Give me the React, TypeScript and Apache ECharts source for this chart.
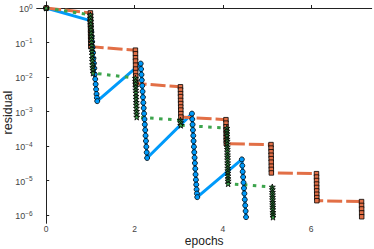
import React, { useEffect, useRef } from "react";
import * as echarts from "echarts";

// ---------- data ----------
const blueEpoch = [
  0,
  1.000, 1.010, 1.020, 1.030, 1.040, 1.050, 1.060, 1.070, 1.080, 1.090, 1.100, 1.110, 1.120, 1.130, 1.140, 1.148, 1.155,
  2.140, 2.148, 2.157, 2.165, 2.174, 2.182, 2.191, 2.199, 2.208, 2.216, 2.225, 2.233, 2.242, 2.250, 2.259, 2.267, 2.276, 2.285,
  3.300, 3.307, 3.315, 3.322, 3.330, 3.337, 3.345, 3.352, 3.360, 3.367, 3.375, 3.382, 3.390, 3.397, 3.405, 3.413, 3.420,
  4.430, 4.440, 4.449, 4.459, 4.468, 4.478, 4.487, 4.497, 4.506, 4.516, 4.525,
];
const blueResidual = [
  1,
  4.3e-1, 3.0e-1, 2.1e-1, 1.5e-1, 1.05e-1, 7.2e-2, 5.1e-2, 3.5e-2, 2.5e-2, 1.8e-2, 1.2e-2, 8.7e-3, 6.2e-3, 4.4e-3, 3.2e-3, 2.5e-3, 2.0e-3,
  2.45e-2, 1.7e-2, 1.17e-2, 8.1e-3, 5.6e-3, 3.8e-3, 2.6e-3, 1.8e-3, 1.26e-3, 8.7e-4, 6.0e-4, 4.2e-4, 2.9e-4, 2.0e-4, 1.4e-4, 9.5e-5, 6.5e-5, 4.5e-5,
  8.7e-4, 6.0e-4, 4.2e-4, 2.9e-4, 2.0e-4, 1.4e-4, 9.5e-5, 6.6e-5, 4.6e-5, 3.2e-5, 2.2e-5, 1.5e-5, 1.05e-5, 7.6e-6, 5.5e-6, 4.2e-6, 3.3e-6,
  4.1e-5, 2.7e-5, 1.8e-5, 1.26e-5, 8.7e-6, 6.0e-6, 4.2e-6, 2.8e-6, 1.9e-6, 1.3e-6, 8.7e-7,
];

const orangeEpoch = [
  0,
  1.000, 1.001, 1.002, 1.003, 1.004, 1.005, 1.006, 1.007, 1.008, 1.009, 1.010,
  2.020, 2.021, 2.022, 2.023, 2.024, 2.025, 2.026, 2.027, 2.028, 2.029,
  3.040, 3.041, 3.042, 3.043, 3.044, 3.045, 3.046, 3.047, 3.048, 3.049,
  4.070, 4.071, 4.072, 4.073, 4.074, 4.075, 4.076, 4.077,
  5.090, 5.091, 5.092, 5.093, 5.094, 5.095, 5.096, 5.097, 5.098,
  6.120, 6.121, 6.122, 6.123, 6.124, 6.125, 6.126, 6.127, 6.128,
  7.140, 7.141, 7.142, 7.143, 7.144,
];
const orangeResidual = [
  1,
  7.2e-1, 5.8e-1, 4.6e-1, 3.7e-1, 3.0e-1, 2.3e-1, 1.9e-1, 1.5e-1, 1.2e-1, 9.5e-2, 7.6e-2,
  6.0e-2, 4.7e-2, 3.6e-2, 2.9e-2, 2.2e-2, 1.7e-2, 1.35e-2, 1.07e-2, 8.3e-3, 6.5e-3,
  5.2e-3, 4.2e-3, 3.3e-3, 2.7e-3, 2.1e-3, 1.7e-3, 1.35e-3, 1.1e-3, 8.7e-4, 6.9e-4,
  5.8e-4, 4.6e-4, 3.6e-4, 2.9e-4, 2.3e-4, 1.8e-4, 1.45e-4, 1.17e-4,
  1.1e-4, 8.7e-5, 6.8e-5, 5.4e-5, 4.3e-5, 3.4e-5, 2.6e-5, 2.1e-5, 1.66e-5,
  1.58e-5, 1.26e-5, 1.0e-5, 7.9e-6, 6.3e-6, 5.0e-6, 4.0e-6, 3.2e-6, 2.6e-6,
  2.45e-6, 1.9e-6, 1.5e-6, 1.15e-6, 8.9e-7,
];

const greenEpoch = [
  0,
  1.000, 1.003, 1.006, 1.009, 1.012, 1.016, 1.019, 1.022, 1.025, 1.028, 1.032, 1.035, 1.038, 1.041, 1.044, 1.047, 1.050, 1.054, 1.057, 1.060,
  2.020, 2.022, 2.025, 2.027, 2.029, 2.032, 2.034, 2.036, 2.039, 2.041, 2.043, 2.045, 2.048, 2.050,
  3.040, 3.043, 3.046,
  4.090, 4.091, 4.093, 4.094, 4.096, 4.097, 4.099, 4.100, 4.101, 4.103, 4.104, 4.106, 4.107, 4.109, 4.110, 4.111, 4.113, 4.114, 4.116, 4.117, 4.119, 4.120,
  5.120, 5.121, 5.123, 5.124, 5.125, 5.126, 5.128, 5.129, 5.130, 5.131, 5.133, 5.134, 5.135,
];
const greenResidual = [
  1,
  6.3e-1, 5.1e-1, 4.2e-1, 3.4e-1, 2.75e-1, 2.3e-1, 1.86e-1, 1.5e-1, 1.23e-1, 1.0e-1, 8.1e-2, 6.6e-2, 5.4e-2, 4.4e-2, 3.5e-2, 2.9e-2, 2.3e-2, 1.9e-2, 1.6e-2, 1.3e-2,
  9.3e-3, 7.6e-3, 6.3e-3, 5.1e-3, 4.2e-3, 3.5e-3, 2.8e-3, 2.3e-3, 1.86e-3, 1.55e-3, 1.26e-3, 1.02e-3, 8.5e-4, 6.9e-4,
  5.6e-4, 4.8e-4, 4.0e-4,
  3.3e-4, 2.75e-4, 2.3e-4, 1.95e-4, 1.6e-4, 1.38e-4, 1.15e-4, 9.5e-5, 8.1e-5, 6.8e-5, 5.6e-5, 4.8e-5, 4.0e-5, 3.3e-5, 2.8e-5, 2.3e-5, 1.95e-5, 1.66e-5, 1.38e-5, 1.15e-5, 9.8e-6, 8.1e-6,
  6.5e-6, 5.5e-6, 4.6e-6, 3.9e-6, 3.3e-6, 2.8e-6, 2.35e-6, 2.0e-6, 1.7e-6, 1.45e-6, 1.2e-6, 1.02e-6, 8.7e-7,
];

const xTicks = [0, 2, 4, 6];
const yTickExponents = [-6, -5, -4, -3, -2, -1, 0];

const BLUE = "#009AFA";
const ORANGE = "#E26F46";
const GREEN = "#3DA44D";
const STAR =
  "path://M0,-10L2.35,-3.24L9.51,-3.09L3.8,1.24L5.88,8.09L0,4L-5.88,8.09L-3.8,1.24L-9.51,-3.09L-2.35,-3.24Z";

function pairs(xs: number[], ys: number[]) {
  const n = Math.min(xs.length, ys.length);
  const out: number[][] = [];
  for (let i = 0; i < n; i++) out.push([xs[i], Math.log10(ys[i])]);
  return out;
}

export default function App() {
  const ref = useRef<HTMLDivElement>(null);
  useEffect(() => {
    if (!ref.current) return;
    const chart = echarts.init(ref.current, undefined, { renderer: "svg" });
    const font = "Liberation Sans";
    chart.setOption({
      animation: false,
      backgroundColor: "#ffffff",
      grid: {
        left: 36.7,
        right: 2.3,
        top: 1.8,
        bottom: 25.7,
        containLabel: false,
        outerBoundsMode: "none",
      },
      xAxis: {
        type: "value",
        min: -0.215,
        max: 7.37,
        name: "epochs",
        nameLocation: "middle",
        nameGap: 12,
        nameMoveOverlap: false,
        nameTextStyle: { fontFamily: font, fontSize: 12, color: "#222" },
        axisLine: { show: true, lineStyle: { color: "#222", width: 1 } },
        axisTick: { show: true, inside: true, length: 3, customValues: xTicks, lineStyle: { color: "#222" } },
        axisLabel: {
          customValues: xTicks,
          margin: 1.5,
          fontFamily: font,
          fontSize: 8.5,
          color: "#444",
        },
        splitLine: { show: false },
      },
      yAxis: {
        type: "value",
        min: -6.24,
        max: 0.18,
        name: "residual",
        nameLocation: "middle",
        nameGap: 22,
        nameMoveOverlap: false,
        nameTextStyle: { fontFamily: font, fontSize: 12.5, color: "#222" },
        axisLine: { show: true, lineStyle: { color: "#222", width: 1 } },
        axisTick: { show: true, inside: true, length: 3, customValues: yTickExponents, lineStyle: { color: "#222" } },
        axisLabel: {
          customValues: yTickExponents,
          margin: 4,
          fontFamily: font,
          color: "#444",
          formatter: (v: number) => {
            const e = Math.round(v);
            return `{b|10}{s|${e < 0 ? "\u2212" : ""}${Math.abs(e)}}`;
          },
          rich: {
            b: { fontFamily: font, fontSize: 9, color: "#444", lineHeight: 11, verticalAlign: "bottom" },
            s: { fontFamily: font, fontSize: 6.5, color: "#444", lineHeight: 7, verticalAlign: "top" },
          },
        },
        splitLine: { show: false },
      },
      series: [
        {
          type: "line",
          data: pairs(blueEpoch, blueResidual),
          symbol: "circle",
          symbolSize: 5,
          showAllSymbol: true,
          itemStyle: { color: BLUE, borderColor: "#000", borderWidth: 0.8 },
          lineStyle: { color: BLUE, width: 3 },
          clip: false,
        },
        {
          type: "line",
          data: pairs(orangeEpoch, orangeResidual),
          symbol: "rect",
          symbolSize: 4.5,
          showAllSymbol: true,
          itemStyle: { color: ORANGE, borderColor: "#000", borderWidth: 0.8 },
          lineStyle: { color: ORANGE, width: 3, type: [15, 4] },
          clip: false,
        },
        {
          type: "line",
          data: pairs(greenEpoch, greenResidual),
          symbol: STAR,
          symbolSize: 6,
          showAllSymbol: true,
          itemStyle: { color: GREEN, borderColor: "#000", borderWidth: 0.8 },
          lineStyle: { color: GREEN, width: 3, type: [3.5, 5.5] },
          clip: false,
        },
      ],
    });
    return () => chart.dispose();
  }, []);
  return (
    <div
      ref={ref}
      style={{ position: "fixed", left: 0, top: 0, width: 374, height: 249, background: "#fff" }}
    />
  );
}
